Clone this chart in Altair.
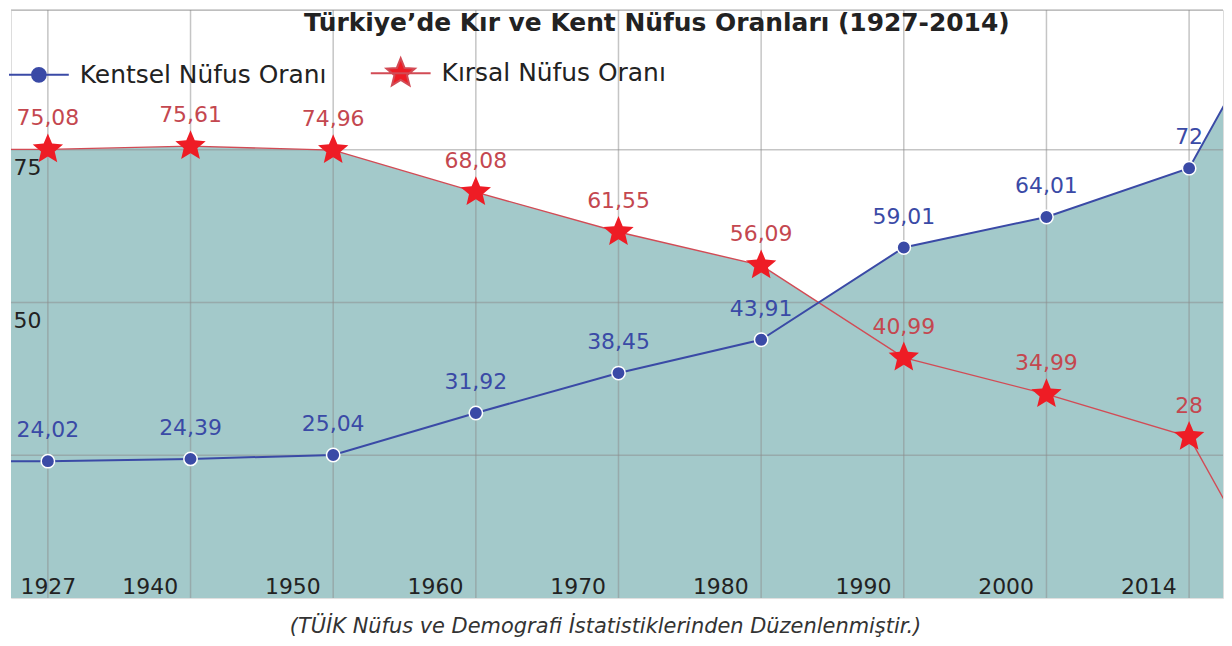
import math
import altair as alt
import pandas as pd

# ---------------- data ----------------
TITLE = "Türkiye’de Kır ve Kent Nüfus Oranları (1927-2014)"
SOURCE = "(TÜİK Nüfus ve Demografi İstatistiklerinden Düzenlenmiştir.)"
SERIES = ["Kentsel Nüfus Oranı", "Kırsal Nüfus Oranı"]

POS = [0, 1, 2, 3, 4, 5, 6, 7, 8]
TICK_LABELS = ["1927", "1940", "1950", "1960", "1970", "1980", "1990", "2000", "2014"]
KENTSEL = [24.02, 24.39, 25.04, 31.92, 38.45, 43.91, 59.01, 64.01, 72]
KIRSAL = [75.08, 75.61, 74.96, 68.08, 61.55, 56.09, 40.99, 34.99, 28]

# the original figure is cropped: its lines run on past both edges
EDGE_POS = [-1, 8.5]
EDGE_KENTSEL = [24.02, 93]
EDGE_KIRSAL = [75.08, 7]

Y_TICKS = [50, 75]
Y_MIN, Y_MAX = 1.6, 97.9
H_GRID = [25, 50, 75, Y_MAX]

# ---------------- style ----------------
FONT = "DejaVu Sans"
TEAL = "#a3c9ca"
BLUE = "#3a4aa6"
RED_LINE = "#d24b55"
RED_STAR = "#ee1c25"
RED_TEXT = "#c4474f"
GRID = "#8c8c8c"
INK = "#222222"


def comma(v):
    return str(v).replace(".", ",")


def star_path(r_out, r_in):
    pts = []
    for k in range(10):
        a = math.radians(-90 + 36 * k)
        r = r_out if k % 2 == 0 else r_in
        pts.append(f"{r * math.cos(a):.3f},{r * math.sin(a):.3f}")
    return "M" + "L".join(pts) + "Z"


STAR = star_path(1.0, 0.45)
LEG_CIRCLE = "M-1,0H1M0.23,0A0.23,0.23,0,1,1,-0.23,0A0.23,0.23,0,1,1,0.23,0Z"
LEG_STAR = "M-1,0H1" + star_path(0.5, 0.22)

pts = pd.DataFrame({
    "pos": POS,
    "kentsel": KENTSEL,
    "kirsal": KIRSAL,
    "k_lab": [comma(v) for v in KENTSEL],
    "r_lab": [comma(v) for v in KIRSAL],
})
lines = pd.concat([
    pts[["pos", "kentsel", "kirsal"]],
    pd.DataFrame({"pos": EDGE_POS, "kentsel": EDGE_KENTSEL, "kirsal": EDGE_KIRSAL}),
]).sort_values("pos").reset_index(drop=True)
grid_df = pd.DataFrame({"g": H_GRID})
leg_df = pd.DataFrame({"series": SERIES})
title_df = pd.DataFrame({"t": [TITLE]})

# ---------------- scales / axes ----------------
XSCALE = alt.Scale(domain=[-0.2585, 8.2376], nice=False, zero=False)
YSCALE = alt.Scale(domain=[Y_MIN, Y_MAX], nice=False, zero=False)

label_js = "[" + ",".join(f"'{t}'" for t in TICK_LABELS) + "][datum.value]"
XAXIS = alt.Axis(
    values=POS, labelExpr=label_js,
    labelAlign={"condition": {"test": "datum.value === 0", "value": "center"}, "value": "right"},
    labelOffset={"condition": {"test": "datum.value === 0", "value": 0}, "value": -13},
    labelPadding=-5, labelBaseline="alphabetic", labelFontSize=22, labelFont=FONT,
    labelColor=INK, ticks=False, domain=False, grid=False, zindex=1,
    labelFlush=False, labelOverlap=False,
    titleFont=FONT, titleFontStyle="italic", titleFontWeight="normal",
    titleFontSize=21, titleColor="#333333", titleX=596, titleY=35,
    titleBaseline="alphabetic",
)
YAXIS = alt.Axis(
    values=Y_TICKS, orient="left", labelAlign="left", labelBaseline="top",
    labelPadding=-2, labelOffset=8, labelFontSize=22, labelFont=FONT,
    labelColor=INK, ticks=False, domain=False, grid=False, zindex=1,
    labelFlush=False, labelOverlap=False,
)


def X():
    return alt.X("pos:Q", scale=XSCALE, axis=XAXIS, title=SOURCE)


def Y(field):
    return alt.Y(f"{field}:Q", scale=YSCALE, axis=YAXIS, title=None)


base_lines = alt.Chart(lines)
base_pts = alt.Chart(pts)

area_r = base_lines.mark_area(color=TEAL, opacity=1, clip=True).encode(x=X(), y=Y("kirsal"))
area_k = base_lines.mark_area(color=TEAL, opacity=1, clip=True).encode(x=X(), y=Y("kentsel"))

vgrid = base_pts.mark_rule(color=GRID, strokeWidth=1.5, opacity=0.5).encode(x=X())
hgrid = alt.Chart(grid_df).mark_rule(color=GRID, strokeWidth=1.5, opacity=0.5).encode(y=Y("g"))

line_r = base_lines.mark_line(color=RED_LINE, strokeWidth=1.4, clip=True).encode(x=X(), y=Y("kirsal"))
line_k = base_lines.mark_line(color=BLUE, strokeWidth=2, clip=True).encode(x=X(), y=Y("kentsel"))

dots_k = base_pts.mark_point(
    shape="circle", filled=True, size=180, color=BLUE, stroke="white",
    strokeWidth=1.5, opacity=1,
).encode(x=X(), y=Y("kentsel"))
stars_r = base_pts.mark_point(
    shape=STAR, filled=True, size=1024, color=RED_STAR, strokeWidth=0, opacity=1,
).encode(x=X(), y=Y("kirsal"))

text_k = base_pts.mark_text(
    dy=-24, baseline="alphabetic", fontSize=22, font=FONT, color=BLUE
).encode(x=X(), y=Y("kentsel"), text="k_lab:N")
text_r = base_pts.mark_text(
    dy=-24, baseline="alphabetic", fontSize=22, font=FONT, color=RED_TEXT
).encode(x=X(), y=Y("kirsal"), text="r_lab:N")

# chart title, drawn inside the top of the frame as in the original figure
title_layer = alt.Chart(title_df).mark_text(
    font=FONT, fontSize=25, fontWeight="bold", color=INK,
    align="center", baseline="alphabetic",
).encode(text="t:N", x=alt.value(648), y=alt.value(21))

LEGEND = alt.Legend(
    orient="none", legendX=-3, legendY=32, direction="horizontal", title=None,
    symbolSize=3600, symbolStrokeWidth=2, labelFontSize=25, labelFont=FONT,
    labelColor=INK, labelLimit=600, labelOffset=10, columnPadding=40,
)
legend_layer = alt.Chart(leg_df).transform_filter("false").mark_point(
    filled=True, size=3600, strokeWidth=2, opacity=1
).encode(
    fill=alt.Fill("series:N", scale=alt.Scale(domain=SERIES, range=[BLUE, RED_STAR]), legend=LEGEND),
    stroke=alt.Stroke("series:N", scale=alt.Scale(domain=SERIES, range=[BLUE, RED_LINE]), legend=LEGEND),
    shape=alt.Shape("series:N", scale=alt.Scale(domain=SERIES, range=[LEG_CIRCLE, LEG_STAR]), legend=LEGEND),
)

chart = alt.layer(
    area_r, area_k, vgrid, hgrid, line_r, line_k, dots_k, stars_r, text_k, text_r,
    title_layer, legend_layer
).properties(
    width=1216, height=590, padding=0,
).configure_view(stroke=None).configure(background="white")

chart.save("out.html", embed_options={"renderer": "svg", "actions": False})
